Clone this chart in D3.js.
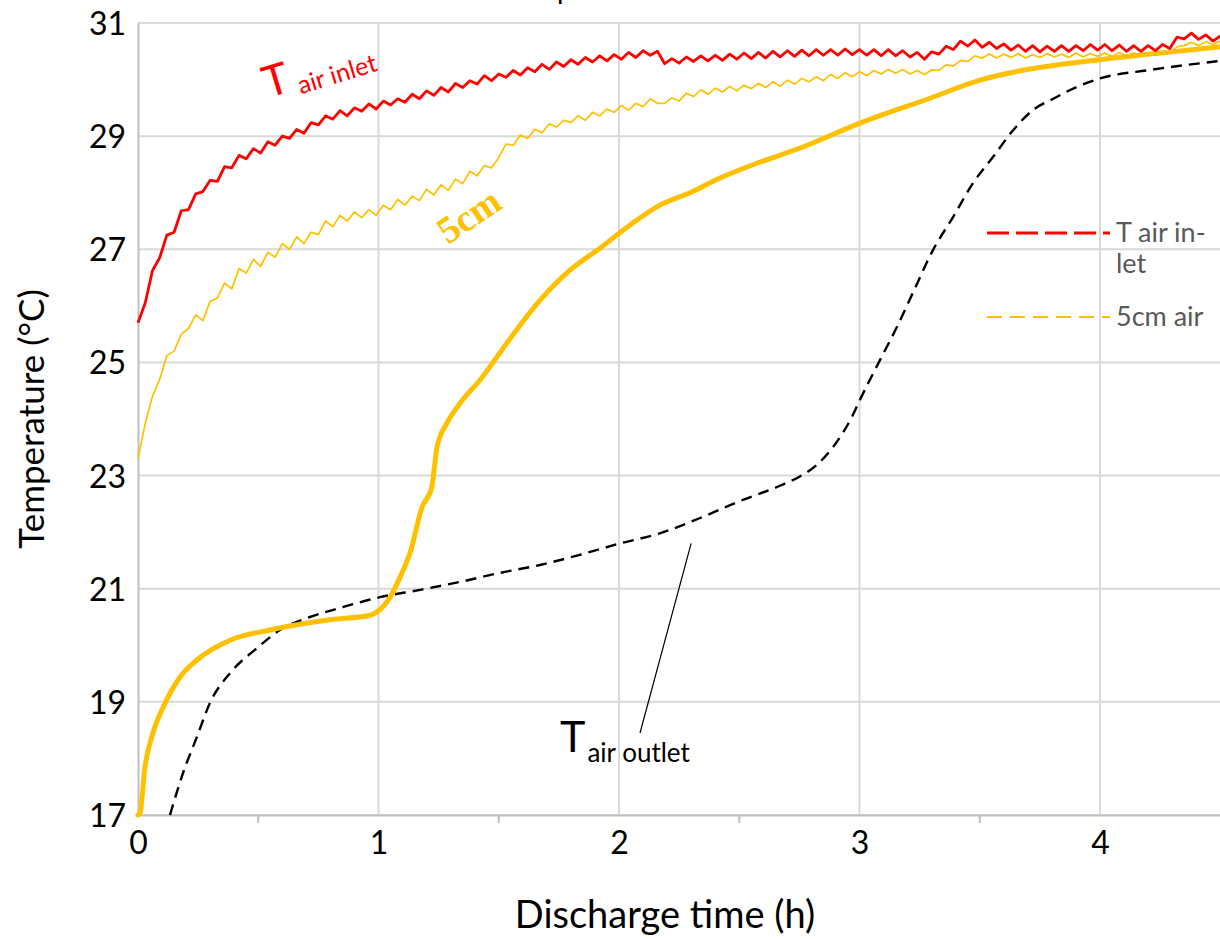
<!DOCTYPE html>
<html>
<head>
<meta charset="utf-8">
<script src="https://cdn.jsdelivr.net/npm/d3@7"></script>
<style>
  html, body { margin: 0; padding: 0; background: #fff; }
  svg { display: block; font-family: Lato, "Open Sans", sans-serif; }
</style>
</head>
<body>
<svg id="chart" width="1220" height="939"></svg>
<script>
// Discharge test: air temperatures (°C) against discharge time (h)

// Logged air inlet temperature, one reading every 0.03 h
const SAMPLE_STEP_H = 0.03;
const inletTemp = [
  25.70, 26.05, 26.62, 26.85, 27.25, 27.30, 27.68, 27.70, 27.98, 28.02,
  28.22, 28.20, 28.46, 28.44, 28.66, 28.60, 28.78, 28.70, 28.90, 28.84,
  29.00, 28.96, 29.12, 29.05, 29.24, 29.20, 29.36, 29.30, 29.45, 29.36,
  29.50, 29.44, 29.57, 29.48, 29.62, 29.55, 29.66, 29.60, 29.74, 29.66,
  29.80, 29.72, 29.86, 29.78, 29.93, 29.86, 29.98, 29.92, 30.07, 29.98,
  30.10, 30.04, 30.16, 30.08, 30.21, 30.14, 30.27, 30.18, 30.31, 30.23,
  30.35, 30.27, 30.39, 30.31, 30.42, 30.33, 30.44, 30.36, 30.48, 30.39,
  30.51, 30.43, 30.50, 30.28, 30.37, 30.29, 30.40, 30.32, 30.42, 30.33,
  30.43, 30.34, 30.45, 30.36, 30.47, 30.37, 30.48, 30.38, 30.50, 30.40,
  30.51, 30.41, 30.52, 30.42, 30.53, 30.43, 30.53, 30.43, 30.54, 30.44,
  30.53, 30.43, 30.53, 30.42, 30.53, 30.42, 30.51, 30.40, 30.48, 30.36,
  30.49, 30.45, 30.59, 30.53, 30.68, 30.59, 30.70, 30.57, 30.66, 30.55,
  30.63, 30.52, 30.61, 30.50, 30.60, 30.49, 30.59, 30.50, 30.60, 30.50,
  30.60, 30.51, 30.62, 30.52, 30.62, 30.51, 30.61, 30.50, 30.60, 30.50,
  30.60, 30.51, 30.62, 30.55, 30.75, 30.72, 30.82, 30.71, 30.79, 30.68,
  30.77
];

// Air temperature 5 cm into the store, same logging interval
const air5cmTemp = [
  23.30, 23.92, 24.40, 24.70, 25.12, 25.20, 25.50, 25.60, 25.84, 25.74,
  26.08, 26.14, 26.40, 26.30, 26.66, 26.58, 26.82, 26.70, 26.95, 26.86,
  27.10, 27.00, 27.22, 27.10, 27.30, 27.26, 27.50, 27.40, 27.60, 27.50,
  27.66, 27.56, 27.70, 27.60, 27.78, 27.70, 27.88, 27.78, 27.94, 27.86,
  28.06, 27.96, 28.14, 28.04, 28.24, 28.16, 28.38, 28.30, 28.48, 28.44,
  28.62, 28.86, 28.84, 29.02, 28.96, 29.12, 29.06, 29.22, 29.16, 29.28,
  29.24, 29.36, 29.28, 29.42, 29.36, 29.48, 29.42, 29.54, 29.46, 29.58,
  29.52, 29.66, 29.58, 29.58, 29.68, 29.62, 29.76, 29.70, 29.82, 29.74,
  29.85, 29.78, 29.88, 29.80, 29.90, 29.84, 29.93, 29.86, 29.96, 29.88,
  29.99, 29.92, 30.02, 29.96, 30.05, 29.98, 30.09, 30.02, 30.12, 30.05,
  30.14, 30.07, 30.16, 30.10, 30.18, 30.11, 30.18, 30.10, 30.16, 30.09,
  30.17, 30.16, 30.26, 30.24, 30.34, 30.32, 30.42, 30.38, 30.45, 30.38,
  30.45, 30.39, 30.46, 30.38, 30.44, 30.39, 30.46, 30.40, 30.45, 30.39,
  30.47, 30.40, 30.46, 30.41, 30.47, 30.41, 30.48, 30.42,
  30.47, 30.42, 30.48, 30.43, 30.50, 30.46, 30.58, 30.60, 30.66, 30.60,
  30.67, 30.62, 30.68
];

// 5 cm reading (smoothed, bold curve)
const pcmTime = [0, 0.008, 0.029, 0.062, 0.104, 0.175, 0.245, 0.383, 0.549, 0.798,
  0.965, 0.994, 1.048, 1.089, 1.131, 1.181, 1.222, 1.231, 1.243, 1.285,
  1.339, 1.422, 1.547, 1.672, 1.796, 1.921, 2.046, 2.17, 2.295, 2.42,
  2.586, 2.753, 3.002, 3.293, 3.501, 3.638, 3.917, 4.208, 4.5];
const pcmTemp = [17.0, 17.03, 17.85, 18.45, 18.9, 19.44, 19.74, 20.09, 20.27, 20.45,
  20.53, 20.59, 20.85, 21.2, 21.63, 22.44, 22.8, 23.1, 23.5, 23.93,
  24.28, 24.69, 25.42, 26.1, 26.63, 27.02, 27.43, 27.78, 28.0, 28.26,
  28.54, 28.79, 29.23, 29.67, 29.99, 30.13, 30.31, 30.45, 30.58];

// Air outlet temperature
const outletTime = [0.133, 0.187, 0.245, 0.299, 0.383, 0.495, 0.59, 0.715, 0.84, 1.006,
  1.173, 1.339, 1.505, 1.672, 1.838, 2.004, 2.17, 2.337, 2.503, 2.669,
  2.75, 2.82, 2.88, 2.93, 2.97, 3.002, 3.085, 3.156, 3.222, 3.306, 3.389, 3.472,
  3.555, 3.638, 3.721, 3.805, 3.904, 4.0, 4.208, 4.5];
const outletTemp = [17.0, 17.74, 18.38, 18.98, 19.51, 19.95, 20.27, 20.5, 20.66, 20.85,
  20.98, 21.12, 21.28, 21.42, 21.6, 21.8, 21.98, 22.25, 22.55, 22.82,
  22.98, 23.18, 23.45, 23.75, 24.05, 24.34, 25.04, 25.63, 26.23, 26.99, 27.57, 28.17,
  28.63, 29.1, 29.46, 29.66, 29.87, 30.02, 30.17, 30.33];

const xTicks = [0, 1, 2, 3, 4];
const xMinorTicks = [0.5, 1.5, 2.5, 3.5];
const yTicks = [17, 19, 21, 23, 25, 27, 29, 31];

const legendItems = [
  { lines: ["T air in-", "let"], color: "#ff0000", width: 3, dash: "22,7" },
  { lines: ["5cm air"], color: "#ffc000", width: 2, dash: "15,8" }
];

const RED = "#ff0000", GOLD = "#ffc000";

const svg = d3.select("#chart");
const margin = { left: 138, top: 23, right: 0, bottom: 124 };
const W = 1220, H = 939;

const x = d3.scaleLinear().domain([0, 4.5]).range([margin.left, margin.left + 4.5 * 240.5]);
const y = d3.scaleLinear().domain([17, 31]).range([H - margin.bottom, margin.top]);

// chart title (sits above the visible area)
svg.append("text")
  .attr("x", 506).attr("y", -1)
  .attr("font-size", 28).attr("fill", "#000")
  .text("Temperature");

// gridlines
svg.append("g")
  .selectAll("line.hg").data(yTicks).join("line")
  .attr("x1", x(0)).attr("x2", W)
  .attr("y1", d => y(d)).attr("y2", d => y(d))
  .attr("stroke", "#d9d9d9").attr("stroke-width", 2);
svg.append("g")
  .selectAll("line.vg").data(xTicks.filter(d => d > 0)).join("line")
  .attr("x1", d => x(d)).attr("x2", d => x(d))
  .attr("y1", y(31)).attr("y2", y(17))
  .attr("stroke", "#d9d9d9").attr("stroke-width", 2);

// axes
const yAxis = d3.axisLeft(y).tickValues(yTicks).tickSize(0).tickPadding(12).tickFormat(d3.format("d"));
const yg = svg.append("g").attr("transform", `translate(${x(0)},0)`).call(yAxis);
yg.select(".domain").attr("stroke", "#bfbfbf").attr("stroke-width", 2);
yg.selectAll("text").attr("font-size", 32).attr("font-family", "Lato, sans-serif").attr("fill", "#000").attr("dy", "0.36em");

const xAxis = d3.axisBottom(x).tickValues(xTicks).tickSize(0).tickPadding(16).tickFormat(d3.format("d"));
const xg = svg.append("g").attr("transform", `translate(0,${y(17)})`).call(xAxis);
xg.select(".domain").attr("stroke", "#bfbfbf").attr("stroke-width", 2);
xg.selectAll("text").attr("font-size", 32).attr("font-family", "Lato, sans-serif").attr("fill", "#000");
xg.selectAll("line.minor").data(xMinorTicks).join("line")
  .attr("class", "minor")
  .attr("x1", d => x(d)).attr("x2", d => x(d))
  .attr("y1", 0).attr("y2", 8)
  .attr("stroke", "#bfbfbf").attr("stroke-width", 2);

// axis titles
svg.append("text")
  .attr("transform", `translate(44,${(y(17) + y(31)) / 2}) rotate(-90)`)
  .attr("text-anchor", "middle")
  .attr("font-size", 35).attr("fill", "#000")
  .text("Temperature (°C)");
svg.append("text")
  .attr("x", 665).attr("y", 928)
  .attr("text-anchor", "middle")
  .attr("font-size", 38).attr("fill", "#000")
  .text("Discharge time (h)");

// plot clip
svg.append("clipPath").attr("id", "plotClip")
  .append("rect").attr("x", x(0) - 4).attr("y", y(31) - 10)
  .attr("width", W - x(0) + 4).attr("height", y(17) - y(31) + 14);

const plot = svg.append("g").attr("clip-path", "url(#plotClip)");

const sampled = arr => arr.map((v, i) => [i * SAMPLE_STEP_H, v]);
const paired = (ts, vs) => ts.map((t, i) => [t, vs[i]]);

const rawLine = d3.line().x(d => x(d[0])).y(d => y(d[1]));
const smoothLine = d3.line().x(d => x(d[0])).y(d => y(d[1])).curve(d3.curveMonotoneX);

plot.append("path")
  .attr("d", smoothLine(paired(outletTime, outletTemp)))
  .attr("fill", "none").attr("stroke", "#000").attr("stroke-width", 2.4)
  .attr("stroke-dasharray", "11,7");

plot.append("path")
  .attr("d", rawLine(sampled(air5cmTemp)))
  .attr("fill", "none").attr("stroke", GOLD).attr("stroke-width", 1.7)
  .attr("stroke-linejoin", "round");

plot.append("path")
  .attr("d", smoothLine(paired(pcmTime, pcmTemp)))
  .attr("fill", "none").attr("stroke", GOLD).attr("stroke-width", 5)
  .attr("stroke-linecap", "round").attr("stroke-linejoin", "round");

plot.append("path")
  .attr("d", rawLine(sampled(inletTemp)))
  .attr("fill", "none").attr("stroke", RED).attr("stroke-width", 2.8)
  .attr("stroke-linejoin", "round");

// legend
const lg = svg.append("g");
legendItems.forEach((item, i) => {
  const ly = [233, 317][i];
  lg.append("line")
    .attr("x1", 987).attr("x2", 1110).attr("y1", ly).attr("y2", ly)
    .attr("stroke", item.color).attr("stroke-width", item.width)
    .attr("stroke-dasharray", item.dash);
  item.lines.forEach((t, j) => {
    lg.append("text")
      .attr("x", 1116).attr("y", ly + 9 + j * 31)
      .attr("font-size", 27).attr("fill", "#595959")
      .text(t);
  });
});

// in-plot annotations
const inletLabel = svg.append("text")
  .attr("transform", "translate(268,98) rotate(-17)")
  .attr("fill", RED);
inletLabel.append("tspan").attr("font-size", 43).text("T");
inletLabel.append("tspan").attr("font-size", 25).attr("dx", 7).attr("dy", 6).text("air inlet");

svg.append("text")
  .attr("transform", "translate(448,245) rotate(-34)")
  .attr("font-family", "'Liberation Serif', 'DejaVu Serif', serif")
  .attr("font-weight", "bold").attr("font-size", 38)
  .attr("fill", GOLD)
  .text("5cm");

svg.append("line")
  .attr("x1", x(2.3)).attr("y1", y(21.8))
  .attr("x2", 640).attr("y2", 733)
  .attr("stroke", "#000").attr("stroke-width", 1.2);

const outletLabel = svg.append("text")
  .attr("x", 560).attr("y", 752)
  .attr("fill", "#000");
outletLabel.append("tspan").attr("font-size", 43).text("T");
outletLabel.append("tspan").attr("font-size", 26).attr("dx", 2).attr("dy", 10).text("air outlet");
</script>
</body>
</html>
